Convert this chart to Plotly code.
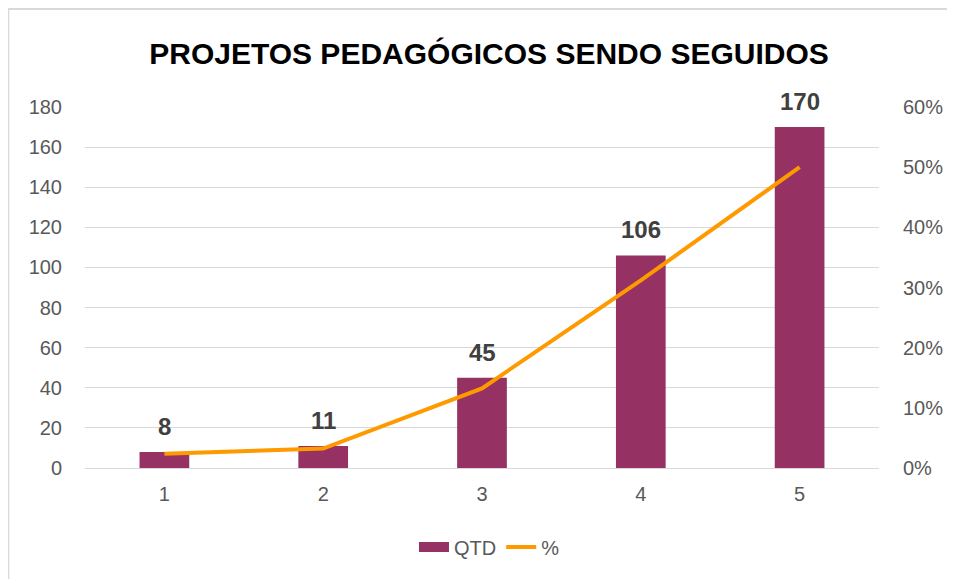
import plotly.graph_objects as go

categories = [1, 2, 3, 4, 5]
qtd = [8, 11, 45, 106, 170]
pct = [0.0235, 0.0324, 0.1324, 0.3118, 0.50]
left_ticks = [0, 20, 40, 60, 80, 100, 120, 140, 160, 180]
right_ticks = [0, 0.1, 0.2, 0.3, 0.4, 0.5, 0.6]

OFF = 8  # page body margin
W, H = 947, 571
L, T = 85 - OFF, 107 - OFF
R = W - (882 - OFF)
B = H - (468 - OFF)

FONT = "Arial, Liberation Sans"
TICK = 20

fig = go.Figure()
fig.add_trace(go.Bar(x=categories, y=qtd, name="QTD", marker_color="#953163",
                     marker_line_width=0, yaxis="y", showlegend=False))
fig.add_trace(go.Scatter(x=[None], y=[None], name="QTD", mode="lines",
                         line=dict(color="#953163", width=12), yaxis="y"))
fig.add_trace(go.Scatter(x=categories, y=pct, name="%", mode="lines",
                         line=dict(color="#FF9900", width=4), yaxis="y2"))

for c, v in zip(categories, qtd):
    fig.add_annotation(x=c, y=v, text="<b>" + str(v) + "</b>", showarrow=False, yref="y", xref="x",
                       yanchor="bottom", yshift=10,
                       font=dict(family=FONT, size=24, color="#404040"))

pw = W - L - R
ph = H - T - B
def px(x):
    return (x - OFF - L) / pw
def py(y):
    return (H - B - (y - OFF)) / ph

fig.add_shape(type="line", xref="paper", yref="paper", x0=px(4), x1=px(970), y0=py(9), y1=py(9),
              line=dict(color="#D9D9D9", width=2))
fig.add_shape(type="line", xref="paper", yref="paper", x0=px(8), x1=px(8), y0=py(9), y1=py(590),
              line=dict(color="#D9D9D9", width=2))

fig.update_layout(
    width=W, height=H,
    margin=dict(l=L, r=R, t=T, b=B),
    paper_bgcolor="white", plot_bgcolor="white",
    title=dict(text="<b>PROJETOS PEDAGÓGICOS SENDO SEGUIDOS</b>", x=(489 - OFF) / W, xanchor="center",
               y=1 - (53 - OFF) / H, yanchor="middle",
               font=dict(family="Liberation Sans", size=30, color="#000000")),
    bargap=0.687,
    showlegend=True,
    legend=dict(orientation="h", x=px(491), xanchor="center", y=py(547), yanchor="middle",
                font=dict(family=FONT, size=TICK, color="#595959")),
    xaxis=dict(type="linear", range=[0.5, 5.5], tickvals=categories, showgrid=False,
               showline=True, linecolor="#D9D9D9", linewidth=1, zeroline=False,
               ticks="", ticklabelstandoff=8,
               tickfont=dict(family=FONT, size=TICK, color="#595959")),
    yaxis=dict(range=[0, 180], tickvals=left_ticks, showgrid=True, gridcolor="#D9D9D9", gridwidth=1,
               zeroline=False, showline=False, ticks="", ticklabelstandoff=22,
               tickfont=dict(family=FONT, size=TICK, color="#595959")),
    yaxis2=dict(range=[0, 0.6], tickvals=right_ticks, tickformat=".0%", overlaying="y", side="right",
                showgrid=False, zeroline=False, showline=False, ticks="", ticklabelstandoff=23,
                tickfont=dict(family=FONT, size=TICK, color="#595959")),
)

fig.write_html("out.html")
